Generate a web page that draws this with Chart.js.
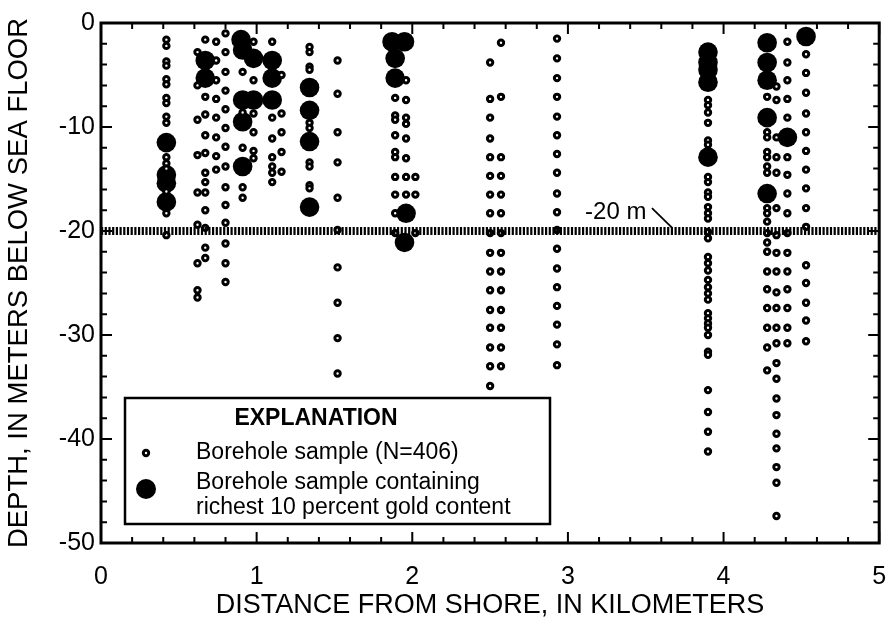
<!DOCTYPE html>
<html lang="en">
<head>
<meta charset="UTF-8">
<title>Borehole samples - depth vs distance from shore</title>
<style>
  body { margin: 0; background: #fff; }
  #wrap { width: 889px; height: 625px; }
</style>
</head>
<body>
<div id="wrap"><canvas id="depthChart"></canvas></div>
<script src="https://cdn.jsdelivr.net/npm/chart.js"></script>
<script>
// distance from shore (km) of each borehole column
const columnKm = [0.42, 0.62, 0.67, 0.74, 0.80, 0.91, 0.98, 1.10, 1.16, 1.34, 1.52,
                  1.89, 1.96, 2.02, 2.50, 2.57, 2.93, 3.90, 4.28, 4.34, 4.41, 4.53];

// ordinary samples in each column, depth in m below sea floor
const columnDepths = [
  [-1.6, -2.2, -3.7, -4.1, -5.4, -5.9, -7.2, -7.7, -9.0, -9.6, -12.9, -13.5, -14.0, -16.2, -18.3, -20.4],
  [-2.8, -6.0, -9.3, -12.7, -16.3, -19.4, -23.1, -25.7, -26.4],
  [-1.6, -7.1, -8.8, -10.8, -12.5, -14.4, -15.3, -16.3, -18.0, -19.7, -21.6, -22.6],
  [-1.8, -3.6, -5.5, -7.3, -9.1, -11.0, -12.8, -14.1],
  [-1.0, -2.8, -4.7, -6.5, -8.3, -10.1, -11.9, -13.8, -15.8, -17.5, -19.2, -21.2, -23.1, -24.9],
  [-4.7, -8.6, -12.0, -15.8, -16.8],
  [-1.8, -5.5, -8.7, -10.5, -12.3, -13.0],
  [-1.8, -9.1, -11.1, -12.9, -13.8, -14.4, -15.3],
  [-5.0, -8.7, -10.5, -12.4, -14.3],
  [-2.3, -2.8, -4.2, -4.5, -9.6, -10.1, -13.4, -13.8, -15.6, -15.9],
  [-3.6, -6.8, -10.5, -13.4, -16.8, -19.9, -23.5, -26.9, -30.3, -33.7],
  [-7.2, -8.9, -9.3, -10.8, -12.4, -12.9, -14.8, -16.5, -18.3, -20.2],
  [-5.5, -7.4, -9.1, -9.7, -11.1, -13.0, -14.8, -16.5],
  [-14.8, -16.5, -20.2],
  [-3.8, -7.3, -9.1, -11.1, -12.9, -14.7, -16.5, -18.3, -20.2, -22.1, -23.9, -25.7, -27.6, -29.3, -31.2, -33.0, -34.9, -36.7],
  [-1.9, -7.1, -12.9, -14.7, -16.5, -18.3, -20.2, -22.1, -23.9, -25.7, -27.6, -29.3, -31.2, -33.0],
  [-1.5, -3.4, -5.3, -7.1, -9.0, -10.8, -12.6, -14.4, -16.4, -18.2, -19.9, -21.7, -23.6, -25.4, -27.2, -29.0, -30.9, -32.9],
  [-7.4, -7.9, -8.6, -9.6, -11.3, -11.7, -14.8, -15.3, -16.3, -16.7, -17.7, -18.3, -18.8, -20.1, -20.7, -22.5, -23.1,
   -23.8, -24.7, -25.4, -26.0, -26.6, -27.9, -28.4, -28.9, -29.3, -30.0, -31.6, -31.9, -35.3, -37.4, -39.3, -41.2],
  [-7.1, -10.5, -11.0, -12.4, -12.9, -13.8, -14.4, -17.8, -18.3, -19.1, -20.2, -21.1, -22.0, -23.9, -25.6, -27.4, -29.3, -31.2, -33.4],
  [-6.1, -7.4, -11.0, -12.9, -14.4, -17.8, -20.4, -22.1, -23.9, -25.9, -27.4, -29.3, -30.8, -32.7, -34.2, -36.1, -37.7,
   -39.5, -40.9, -42.7, -44.2, -47.4],
  [-1.8, -3.8, -5.5, -7.3, -9.1, -12.9, -14.6, -16.4, -18.3, -20.2, -22.1, -23.9, -25.6, -27.4, -29.3, -30.8],
  [-3.0, -4.8, -6.7, -8.7, -10.5, -12.3, -14.1, -15.9, -17.8, -19.6, -23.3, -25.0, -26.9, -28.6, -30.6]
];

// samples in the richest 10 percent gold content
const richKm =    [0.42, 0.42, 0.42, 0.42, 0.67, 0.67,
                   0.90, 0.91, 0.98, 1.10, 1.10, 0.91, 0.98, 1.10, 0.91, 0.91,
                   1.34, 1.34, 1.34, 1.34,
                   1.87, 1.95, 1.89, 1.89, 1.96, 1.95,
                   3.90, 3.90, 3.90, 3.90, 3.90,
                   4.28, 4.28, 4.28, 4.28, 4.41, 4.28,
                   4.53];
const richDepth = [-11.5, -14.6, -15.4, -17.2, -3.6, -5.3,
                   -1.6, -2.6, -3.4, -3.6, -5.3, -7.4, -7.4, -7.4, -9.5, -13.8,
                   -6.2, -8.4, -11.4, -17.7,
                   -1.8, -1.8, -3.4, -5.3, -18.3, -21.1,
                   -2.8, -3.8, -4.5, -5.7, -12.9,
                   -1.9, -3.8, -5.5, -9.1, -11.0, -16.4,
                   -1.3];

const xTicks = [0, 1, 2, 3, 4, 5];
const yTicks = [0, -10, -20, -30, -40, -50];
const refDepth = -20;
const refLabel = '-20 m';

const samplePoints = [];
columnKm.forEach((km, i) => {
  columnDepths[i].forEach(d => samplePoints.push({x: km, y: d}));
});
const richPoints = richKm.map((km, i) => ({x: km, y: richDepth[i]}));

const FONT = "'Liberation Sans', Arial, Helvetica, sans-serif";
Chart.defaults.font.family = FONT;
Chart.defaults.color = '#000';

// frame with inward ticks on all four sides, plus the -20 m callout
const frameTicks = {
  id: 'frameTicks',
  afterDatasetsDraw(chart) {
    const {ctx, chartArea: a, scales: {x, y}} = chart;
    ctx.save();
    ctx.strokeStyle = '#000';
    ctx.lineWidth = 2;
    ctx.beginPath();
    for (let i = 0; i <= 25; i++) {
      const px = x.getPixelForValue(i * 0.2);
      const len = i % 5 === 0 ? 11 : 6;
      ctx.moveTo(px, a.bottom); ctx.lineTo(px, a.bottom - len);
      ctx.moveTo(px, a.top); ctx.lineTo(px, a.top + len);
    }
    for (let i = 0; i <= 25; i++) {
      const py = y.getPixelForValue(-i * 2);
      const len = i % 5 === 0 ? 11 : 6;
      ctx.moveTo(a.left, py); ctx.lineTo(a.left + len, py);
      ctx.moveTo(a.right, py); ctx.lineTo(a.right - len, py);
    }
    ctx.stroke();
    ctx.lineWidth = 3;
    ctx.strokeRect(a.left, a.top, a.right - a.left, a.bottom - a.top);

    // -20 m label and leader
    ctx.font = '24px ' + FONT;
    ctx.fillStyle = '#000';
    ctx.textBaseline = 'middle';
    ctx.fillText(refLabel, x.getPixelForValue(3.11), y.getPixelForValue(-18.2));
    ctx.lineWidth = 1.8;
    ctx.beginPath();
    ctx.moveTo(x.getPixelForValue(3.54), y.getPixelForValue(-17.8));
    ctx.lineTo(x.getPixelForValue(3.67), y.getPixelForValue(-19.7));
    ctx.stroke();
    ctx.restore();
  },
  afterDraw(chart) {
    // explanation box
    const {ctx} = chart;
    ctx.save();
    ctx.fillStyle = '#fff';
    ctx.fillRect(125, 398, 425, 126);
    ctx.strokeStyle = '#000';
    ctx.lineWidth = 2.5;
    ctx.strokeRect(125, 398, 425, 126);
    ctx.fillStyle = '#000';
    ctx.textBaseline = 'middle';
    ctx.textAlign = 'center';
    ctx.font = 'bold 23px ' + FONT;
    ctx.fillText('EXPLANATION', 316, 419);
    ctx.textAlign = 'left';
    ctx.font = '23px ' + FONT;
    ctx.fillText('Borehole sample (N=406)', 196, 453);
    ctx.fillText('Borehole sample containing', 196, 483);
    ctx.fillText('richest 10 percent gold content', 196, 508);
    ctx.beginPath();
    ctx.arc(146, 453, 2.7, 0, Math.PI * 2);
    ctx.fillStyle = '#fff';
    ctx.fill();
    ctx.lineWidth = 3;
    ctx.stroke();
    ctx.beginPath();
    ctx.arc(146, 489, 10, 0, Math.PI * 2);
    ctx.fillStyle = '#000';
    ctx.fill();
    ctx.restore();
  }
};

new Chart(document.getElementById('depthChart'), {
  type: 'scatter',
  data: {
    datasets: [
      {
        type: 'line',
        label: refLabel,
        data: [{x: 0, y: refDepth}, {x: 5, y: refDepth}],
        borderColor: '#000',
        borderWidth: 8,
        borderDash: [2.2, 1.5],
        borderCapStyle: 'butt',
        pointRadius: 0
      },
      {
        label: 'Borehole sample (N=406)',
        data: samplePoints,
        pointRadius: 2.7,
        pointBorderWidth: 3,
        pointBackgroundColor: '#fff',
        pointBorderColor: '#000'
      },
      {
        label: 'Borehole sample containing richest 10 percent gold content',
        data: richPoints,
        pointRadius: 9.8,
        pointBorderWidth: 0,
        pointBackgroundColor: '#000',
        pointBorderColor: '#000'
      }
    ]
  },
  options: {
    responsive: true,
    maintainAspectRatio: false,
    animation: false,
    layout: { padding: { top: 23, right: 9, left: 0, bottom: 0 } },
    plugins: {
      legend: { display: false },
      tooltip: { enabled: false }
    },
    scales: {
      x: {
        type: 'linear',
        min: 0, max: 5,
        afterFit: s => { s.height = 82; s.paddingLeft = 0; s.paddingRight = 0; },
        afterBuildTicks: s => { s.ticks = xTicks.map(v => ({value: v})); },
        grid: { display: false, drawTicks: false },
        border: { display: false },
        ticks: { padding: 19, font: { size: 25 }, color: '#000' },
        title: {
          display: true,
          text: 'DISTANCE FROM SHORE, IN KILOMETERS',
          font: { size: 27 },
          padding: { top: 0, bottom: 3 },
          color: '#000'
        }
      },
      y: {
        type: 'linear',
        min: -50, max: 0,
        afterFit: s => { s.width = 101; s.paddingTop = 0; s.paddingBottom = 0; },
        afterBuildTicks: s => { s.ticks = yTicks.map(v => ({value: v})); },
        grid: { display: false, drawTicks: false },
        border: { display: false },
        ticks: { padding: 6, font: { size: 25 }, color: '#000', callback: v => String(v) },
        title: {
          display: true,
          text: 'DEPTH, IN METERS BELOW SEA FLOOR',
          font: { size: 27.5 },
          padding: { top: 3, bottom: 0 },
          color: '#000'
        }
      }
    }
  },
  plugins: [frameTicks]
});
</script>
</body>
</html>
